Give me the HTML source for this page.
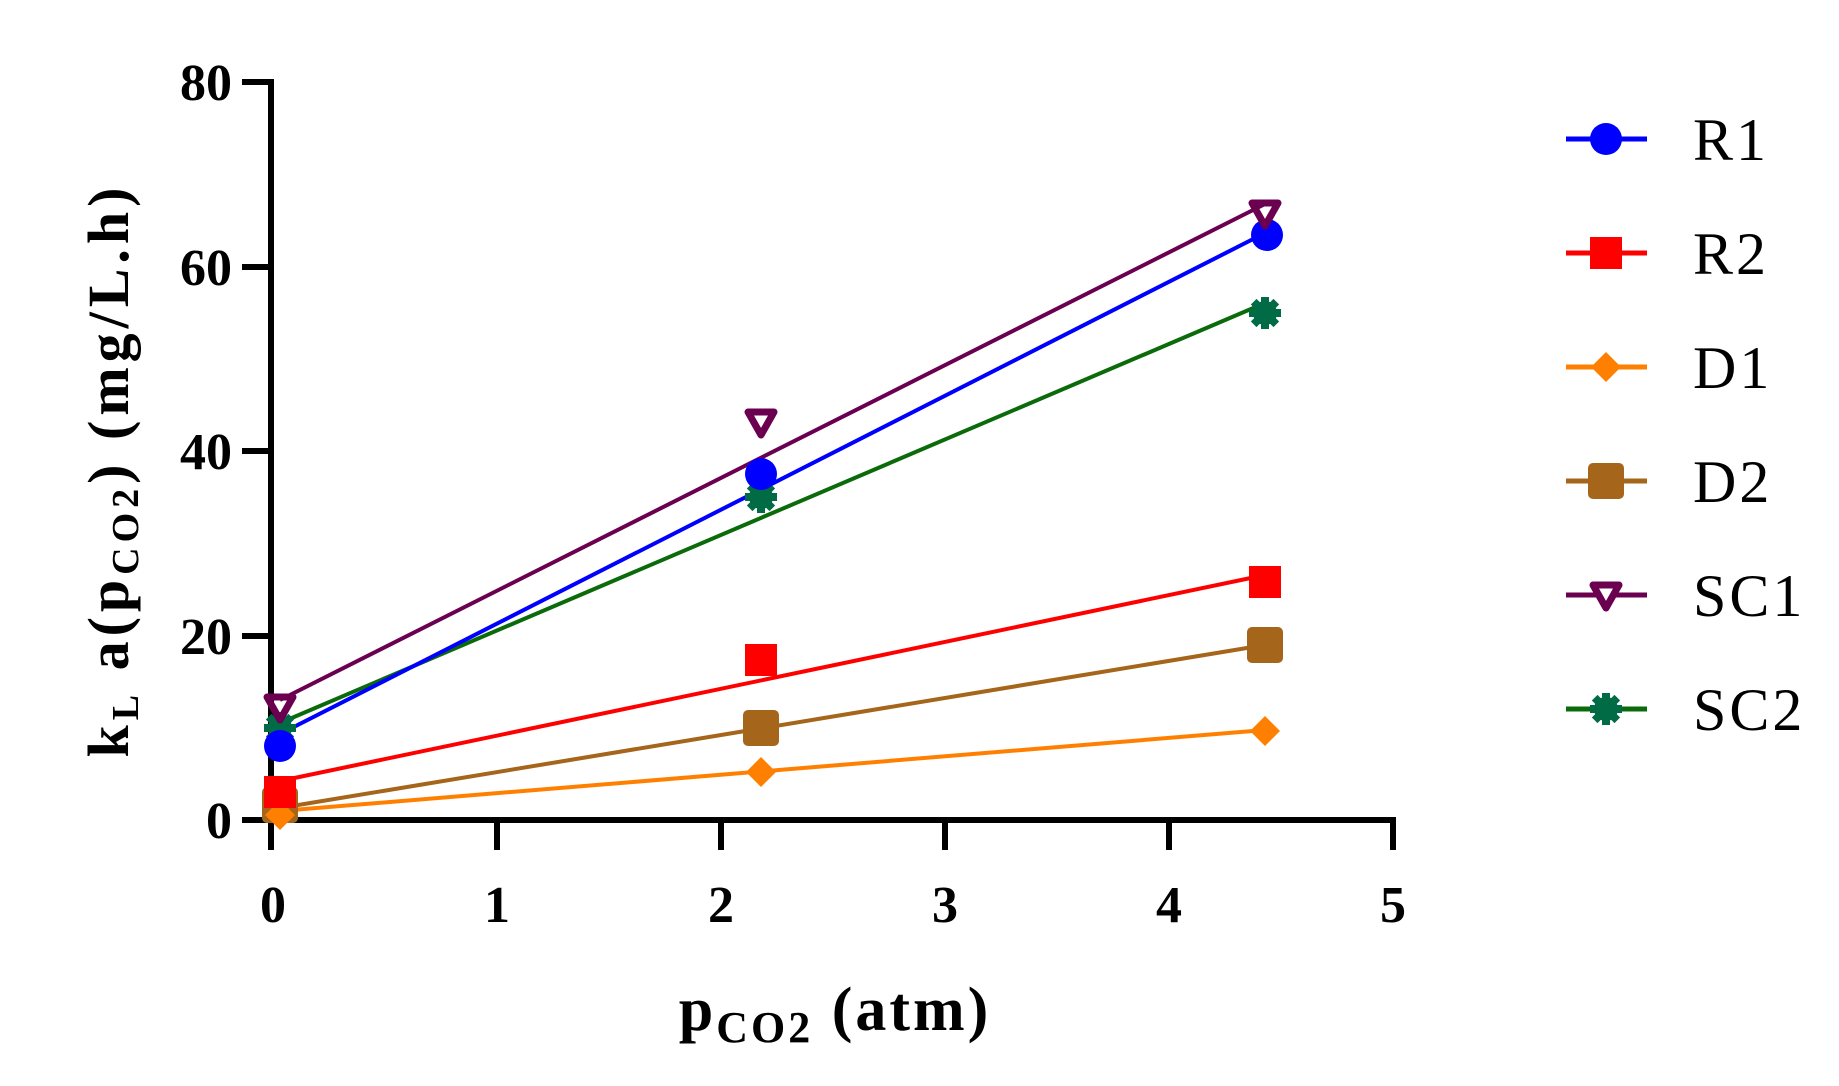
<!DOCTYPE html>
<html><head><meta charset="utf-8"><style>body{margin:0;background:#fff}svg{display:block}</style></head>
<body>
<svg width="1839" height="1086" viewBox="0 0 1839 1086" xmlns="http://www.w3.org/2000/svg" font-family="Liberation Serif, serif">
<defs>
<g id="star"><circle r="12"/><rect x="-4" y="-16" width="8" height="32"/><rect x="-16" y="-4" width="32" height="8"/><rect x="-4" y="-16" width="8" height="32" transform="rotate(45)"/><rect x="-4" y="-16" width="8" height="32" transform="rotate(-45)"/></g>
</defs>
<g stroke="#000" stroke-width="6" fill="none">
<line x1="271" y1="79" x2="271" y2="850"/>
<line x1="242" y1="820" x2="1396" y2="820"/>
<line x1="242" y1="82" x2="271" y2="82"/>
<line x1="242" y1="267" x2="271" y2="267"/>
<line x1="242" y1="451" x2="271" y2="451"/>
<line x1="242" y1="636" x2="271" y2="636"/>
<line x1="497" y1="820" x2="497" y2="850"/>
<line x1="721" y1="820" x2="721" y2="850"/>
<line x1="945" y1="820" x2="945" y2="850"/>
<line x1="1169" y1="820" x2="1169" y2="850"/>
<line x1="1393" y1="820" x2="1393" y2="850"/>
</g>
<g font-size="52" font-weight="bold" text-anchor="end">
<text x="232" y="100">80</text><text x="232" y="285">60</text><text x="232" y="469">40</text><text x="232" y="654">20</text><text x="232" y="838">0</text>
</g>
<g font-size="52" font-weight="bold" text-anchor="middle">
<text x="273" y="922">0</text><text x="497" y="922">1</text><text x="721" y="922">2</text><text x="945" y="922">3</text><text x="1169" y="922">4</text><text x="1393" y="922">5</text>
</g>
<text x="835" y="1030" font-size="62" font-weight="bold" text-anchor="middle" letter-spacing="3">p<tspan font-size="44" dy="12">CO2</tspan><tspan dy="-12"> (atm)</tspan></text>
<text transform="translate(128,470) rotate(-90)" font-size="58" font-weight="bold" text-anchor="middle" letter-spacing="5">k<tspan font-size="38" dy="10">L</tspan><tspan dy="-10"> a(p</tspan><tspan font-size="38" dy="10">CO2</tspan><tspan dy="-10">) (mg/L.h)</tspan></text>
<g stroke-width="4">
<line x1="280" y1="811" x2="1265" y2="730" stroke="#ff8000"/>
<line x1="280" y1="808" x2="1265" y2="645" stroke="#a5651a"/>
<line x1="280" y1="781" x2="1265" y2="575" stroke="#ff0000"/>
<line x1="280" y1="723" x2="1265" y2="303" stroke="#0b6b0b"/>
<line x1="280" y1="734" x2="1265" y2="233" stroke="#0000ff"/>
<line x1="280" y1="700" x2="1265" y2="204" stroke="#6b0050"/>
</g>
<g fill="#a5651a"><rect x="262" y="787" width="36" height="36" rx="5"/><rect x="743" y="710" width="36" height="36" rx="5"/><rect x="1247" y="627" width="36" height="36" rx="5"/></g>
<g fill="#ff8000"><polygon points="280,800 295,815 280,830 265,815"/><polygon points="761,757 776,772 761,787 746,772"/><polygon points="1265,716 1280,731 1265,746 1250,731"/></g>
<g fill="#ff0000"><rect x="264" y="776" width="32" height="32"/><rect x="745" y="644" width="32" height="32"/><rect x="1249" y="566" width="32" height="32"/></g>
<g fill="#006b45"><use href="#star" x="280" y="728"/><use href="#star" x="761" y="497"/><use href="#star" x="1265" y="313"/></g>
<g fill="#0000ff"><circle cx="280" cy="746" r="16"/><circle cx="761" cy="474" r="16"/><circle cx="1267" cy="235" r="16"/></g>
<g fill="none" stroke="#6b0050" stroke-width="7" stroke-linejoin="round"><polygon points="267,697 293,697 280,720"/><polygon points="748,412 774,412 761,435"/><polygon points="1252,203 1278,203 1265,226"/></g>
<g stroke-width="5">
<line x1="1566" y1="139" x2="1647" y2="139" stroke="#0000ff"/>
<line x1="1566" y1="253" x2="1647" y2="253" stroke="#ff0000"/>
<line x1="1566" y1="367" x2="1647" y2="367" stroke="#ff8000"/>
<line x1="1566" y1="481" x2="1647" y2="481" stroke="#a5651a"/>
<line x1="1566" y1="595" x2="1647" y2="595" stroke="#6b0050"/>
<line x1="1566" y1="709" x2="1647" y2="709" stroke="#0b6b0b"/>
</g>
<circle cx="1606" cy="139" r="16" fill="#0000ff"/>
<rect x="1590" y="237" width="32" height="32" fill="#ff0000"/>
<polygon points="1606,352 1621,367 1606,382 1591,367" fill="#ff8000"/>
<rect x="1588" y="463" width="36" height="36" rx="5" fill="#a5651a"/>
<polygon points="1593,585 1619,585 1606,608" fill="#fff" stroke="#6b0050" stroke-width="7" stroke-linejoin="round"/>
<use href="#star" x="1606" y="709" fill="#006b45"/>
<g font-size="60" letter-spacing="3">
<text x="1693" y="160">R1</text><text x="1693" y="274">R2</text><text x="1693" y="388">D1</text><text x="1693" y="502">D2</text><text x="1693" y="616">SC1</text><text x="1693" y="730">SC2</text>
</g>
</svg>
</body></html>
